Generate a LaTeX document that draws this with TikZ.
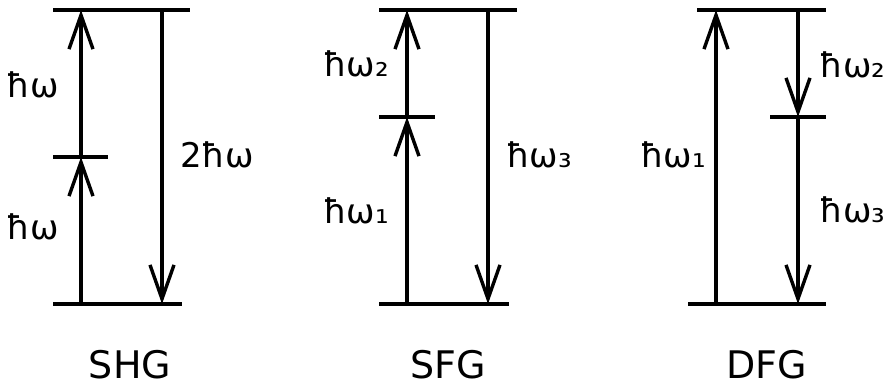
\documentclass[tikz,border=0pt]{standalone}
\usepackage{fontspec}
\setmainfont{DejaVu Sans}
\usetikzlibrary{arrows.meta}

\begin{document}
\begin{tikzpicture}[
        x=0.5pt, y=-0.5pt,
        level/.style={line width=1.7pt},
        photon/.style={-{Straight Barb[length=17pt, width=12pt]}, line width=1.7pt},
        lbl/.style={anchor=base, inner sep=0pt, font=\fontsize{17}{21}\selectfont},
        title/.style={anchor=base, inner sep=0pt, font=\fontsize{19}{23}\selectfont}
    ]
        \useasboundingbox (0,0) rectangle (889,388);

        % Energy levels
        \draw[level] (53,10) coordinate (shgE) -- (190,10);
        \draw[level] (53,157) coordinate (shgV) -- (108,157);
        \draw[level] (53,304) coordinate (shgG) -- (182,304);
        \draw[level] (379,10) coordinate (sfgE) -- (517,10);
        \draw[level] (379,117) coordinate (sfgV) -- (435,117);
        \draw[level] (379,304) coordinate (sfgG) -- (509,304);
        \draw[level] (697,10) coordinate (dfgE) -- (826,10);
        \draw[level] (770,117) coordinate (dfgV) -- (826,117);
        \draw[level] (688,304) coordinate (dfgG) -- (826,304);

        % Arrow ends
        \coordinate (shg1a) at (81,304);  \coordinate (shg1b) at (81,157);
        \coordinate (shg2a) at (81,157);  \coordinate (shg2b) at (81,10);
        \coordinate (shg3a) at (162,10);  \coordinate (shg3b) at (162,304);
        \coordinate (sfg1a) at (407,304); \coordinate (sfg1b) at (407,117);
        \coordinate (sfg2a) at (407,117); \coordinate (sfg2b) at (407,10);
        \coordinate (sfg3a) at (488,10);  \coordinate (sfg3b) at (488,304);
        \coordinate (dfg1a) at (716,304); \coordinate (dfg1b) at (716,10);
        \coordinate (dfg2a) at (798,12);  \coordinate (dfg2b) at (798,117);
        \coordinate (dfg3a) at (798,117); \coordinate (dfg3b) at (798,304);

        % Transitions
        \draw[photon] (shg1a) -- (shg1b);
        \draw[photon] (shg2a) -- (shg2b);
        \draw[photon] (shg3a) -- (shg3b);
        \draw[photon] (sfg1a) -- (sfg1b);
        \draw[photon] (sfg2a) -- (sfg2b);
        \draw[photon] (sfg3a) -- (sfg3b);
        \draw[photon] (dfg1a) -- (dfg1b);
        \draw[photon] (dfg2a) -- (dfg2b);
        \draw[photon] (dfg3a) -- (dfg3b);

        % Labels
        \node[lbl] (shgL2) at (33,97) {ħω};
        \node[lbl] (shgL1) at (33,239) {ħω};
        \node[lbl] (shgL3) at (217,167) {2ħω};
        \node[lbl] (sfgL2) at (356,76) {ħω₂};
        \node[lbl] (sfgL1) at (356,223) {ħω₁};
        \node[lbl] (sfgL3) at (539,167) {ħω₃};
        \node[lbl] (dfgL1) at (673,167) {ħω₁};
        \node[lbl, anchor=base east] (dfgL2) at (886,77) {ħω₂};
        \node[lbl, anchor=base east] (dfgL3) at (886,222) {ħω₃};

        % Process names
        \node[title] (shg) at (130,378) {SHG};
        \node[title] (sfg) at (448,378) {SFG};
        \node[title] (dfg) at (767,378) {DFG};
    \end{tikzpicture}
\end{document}
